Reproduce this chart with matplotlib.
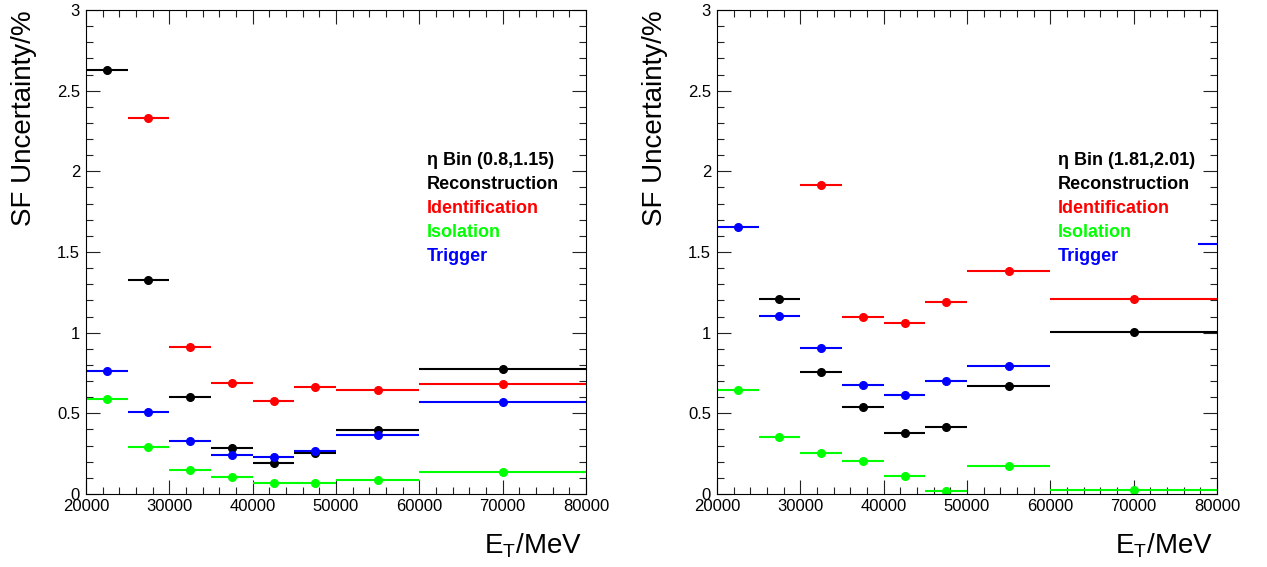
import matplotlib
matplotlib.use("Agg")
import matplotlib.pyplot as plt
import numpy as np
from matplotlib.ticker import MultipleLocator, FormatStrFormatter

plt.rcParams['font.family'] = ['Liberation Sans', 'DejaVu Sans']
plt.rcParams['mathtext.default'] = 'regular'

# ET bins (MeV)
bin_lo = np.array([20000, 25000, 30000, 35000, 40000, 45000, 50000, 60000])
bin_hi = np.array([25000, 30000, 35000, 40000, 45000, 50000, 60000, 80000])

# eta bin (0.8,1.15), nan = off the top of the chart
left_reco = [2.63, 1.325, 0.604, 0.285, 0.19, 0.252, 0.398, 0.777]
left_ident = [np.nan, 2.33, 0.909, 0.687, 0.575, 0.662, 0.647, 0.680]
left_iso = [0.586, 0.289, 0.146, 0.105, 0.070, 0.070, 0.089, 0.134]
left_trig = [0.761, 0.511, 0.326, 0.243, 0.231, 0.264, 0.365, 0.569]

# eta bin (1.81,2.01)
right_reco = [np.nan, 1.209, 0.758, 0.538, 0.381, 0.416, 0.669, 1.004]
right_ident = [np.nan, np.nan, 1.917, 1.099, 1.060, 1.193, 1.385, 1.207]
right_iso = [0.642, 0.352, 0.257, 0.203, 0.114, 0.021, 0.174, 0.027]
right_trig = [1.654, 1.104, 0.903, 0.675, 0.611, 0.700, 0.791, np.nan]
# trigger overflow point, centre off the axis, only its error bar shows
right_trig_over_lo = [77700]
right_trig_over_hi = [102300]
right_trig_over = [1.55]

labels = ['Reconstruction', 'Identification', 'Isolation', 'Trigger']
colors = ['black', '#ff0000', '#00ff00', '#0000ff']


def draw_points(ax, lo, hi, vals, c):
    lo = np.asarray(lo, float)
    hi = np.asarray(hi, float)
    x = (lo + hi) / 2
    ax.errorbar(x, vals, xerr=(hi - lo) / 2, fmt='o', color=c, ms=5.5,
                elinewidth=1.5, capsize=0, mec=c, mfc=c)


def style_axes(ax):
    ax.set_xlim(20000, 80000)
    ax.set_ylim(0, 3)
    ax.xaxis.set_major_locator(MultipleLocator(10000))
    ax.xaxis.set_minor_locator(MultipleLocator(2000))
    ax.yaxis.set_major_locator(MultipleLocator(0.5))
    ax.yaxis.set_minor_locator(MultipleLocator(0.1))
    ax.yaxis.set_major_formatter(FormatStrFormatter('%g'))
    ax.tick_params(which='both', direction='in', top=True, right=True,
                   width=0.8, color='#222222', labelsize=12)
    ax.tick_params(which='major', length=10)
    ax.tick_params(which='minor', length=5)
    ax.tick_params(axis='x', pad=3.5)
    ax.tick_params(axis='y', pad=4.3)
    for s in ax.spines.values():
        s.set_linewidth(0.8)


W, H = 1267, 567
fig = plt.figure(figsize=(W / 100, H / 100), dpi=100)

panels = [
    (86, '(0.8,1.15)', [left_reco, left_ident, left_iso, left_trig]),
    (717, '(1.81,2.01)', [right_reco, right_ident, right_iso, right_trig]),
]

for x0, eta_txt, series in panels:
    ax = fig.add_axes([x0 / W, (H - 494) / H, 500 / W, 484 / H])
    for vals, c in zip(series, colors):
        draw_points(ax, bin_lo, bin_hi, vals, c)
    if x0 == 717:
        draw_points(ax, right_trig_over_lo, right_trig_over_hi,
                    right_trig_over, colors[3])
    style_axes(ax)

    # legend text block
    tx = (427 - 86) / 500
    ys = [160.5, 184, 208, 232, 256.5]
    texts = ['η Bin ' + eta_txt] + labels
    tcols = ['black'] + colors
    for t, yy, c in zip(texts, ys, tcols):
        ax.text(tx, (494 - yy) / 484, t, transform=ax.transAxes, color=c,
                fontsize=13, fontweight='bold', ha='left', va='center')

    fig.text((x0 - 62) / W, 1 - 10 / H, 'SF Uncertainty/%', rotation=90,
             ha='center', va='top', fontsize=20)
    fig.text((x0 + 496) / W, 1 - 554 / H, r'$E_T$/MeV', ha='right',
             va='baseline', fontsize=20)

fig.savefig('out.png', dpi=100)
